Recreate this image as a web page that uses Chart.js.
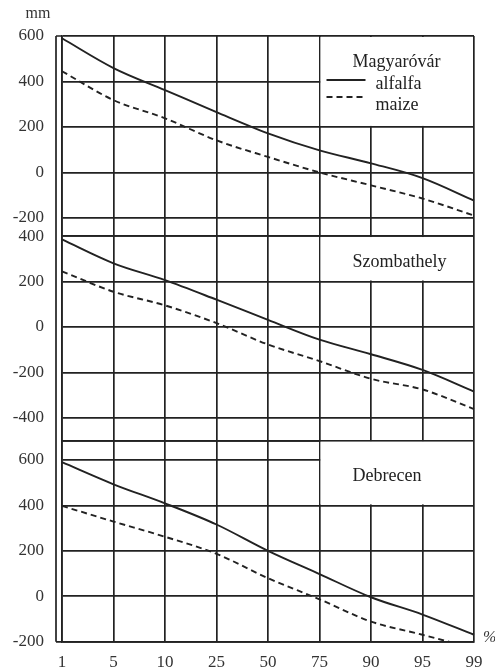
<!DOCTYPE html>
<html lang="en">
<head>
    <meta charset="UTF-8">
    <title>Magyaróvár, Szombathely, Debrecen</title>
    <style>
        html, body {
            margin: 0;
            padding: 0;
            background: #fff;
        }
        #chart {
            display: block;
        }
    </style>
</head>
<body>
    <canvas id="chart" width="495" height="670"></canvas>

    <script src="https://cdn.jsdelivr.net/npm/chart.js"></script>
    <script>
// probability of exceedance (%)
const percents = ['1', '5', '10', '25', '50', '75', '90', '95', '99'];

const stations = ['Magyaróvár', 'Szombathely', 'Debrecen'];

// mm
const magyarovarAlfalfa = [590, 459, 362, 265, 172, 97, 40, -25, -124];
const magyarovarMaize = [445, 318, 238, 141, 68, 0, -57, -115, -190];
const szombathelyAlfalfa = [385, 280, 206, 120, 31, -56, -120, -189, -284];
const szombathelyMaize = [245, 155, 95, 17, -77, -150, -228, -275, -361];
const debrecenAlfalfa = [590, 493, 409, 316, 200, 98, -4, -80, -169];
const debrecenMaize = [398, 329, 262, 187, 80, -13, -111, -169, -230];

// y ticks of each panel and the panel limits
const yTicksMagyarovar = [600, 400, 200, 0, -200];
const yTicksSzombathely = [400, 200, 0, -200, -400];
const yTicksDebrecen = [600, 400, 200, 0, -200];
const yRanges = [[-280, 600], [-500, 400], [-200, 685]];

const ink = '#222';
const serif = "'Liberation Serif', 'DejaVu Serif', serif";

function series(values, axis, dashed) {
    return {
        label: dashed ? 'maize' : 'alfalfa',
        data: values,
        yAxisID: axis,
        borderColor: ink,
        borderWidth: 1.9,
        borderDash: dashed ? [6, 4] : [],
        pointRadius: 0,
        cubicInterpolationMode: 'monotone',
        fill: false
    };
}

function panelAxis(ticks, range) {
    const [min, max] = range;
    return {
        type: 'linear',
        position: 'left',
        stack: 'panels',
        stackWeight: max - min,
        min: min,
        max: max,
        afterBuildTicks: s => {
            const vals = Array.from(new Set([min, ...ticks, max])).sort((a, b) => a - b);
            s.ticks = vals.map(v => ({ value: v }));
        },
        afterFit: s => { s.width = 62; },
        ticks: {
            autoSkip: false,
            padding: 18,
            color: '#333',
            font: { family: serif, size: 17 },
            callback: v => ticks.includes(v) ? String(v) : ''
        },
        grid: { color: ink, lineWidth: 1.7, drawTicks: false },
        border: { color: ink, width: 1.7 }
    };
}

// station name boxes: they cover the grid from 75 % to 99 % down to this value
const boxFloor = [200, 200, 400];

const paperPlugin = {
    id: 'paper',
    beforeDatasetsDraw(chart) {
        const { ctx, chartArea: a, scales } = chart;
        const x75 = scales.x.getPixelForValue(percents.indexOf('75'));
        ['y1', 'y2', 'y3'].forEach((id, i) => {
            const sc = scales[id];
            const top = sc.top;
            const bottom = sc.getPixelForValue(boxFloor[i]);
            ctx.save();
            ctx.fillStyle = '#fff';
            ctx.fillRect(x75 + 1, top + 1, a.right - x75 - 2, bottom - top - 2);
            ctx.fillStyle = ink;
            ctx.font = '18px ' + serif;
            ctx.textAlign = 'left';
            if (i === 0) {
                ctx.textBaseline = 'alphabetic';
                ctx.fillText(stations[i], x75 + 33, top + 31);
                const sets = chart.data.datasets.slice(0, 2);
                sets.forEach((ds, k) => {
                    const ly = top + 44 + k * 17;
                    ctx.strokeStyle = ds.borderColor;
                    ctx.lineWidth = 2;
                    ctx.setLineDash(ds.borderDash);
                    ctx.beginPath();
                    ctx.moveTo(x75 + 7, ly);
                    ctx.lineTo(x75 + 46, ly);
                    ctx.stroke();
                    ctx.setLineDash([]);
                    ctx.fillText(ds.label, x75 + 56, ly + 9 + k * 4);
                });
            } else {
                ctx.textBaseline = 'middle';
                ctx.fillText(stations[i], x75 + 33, (top + bottom) / 2 + 3);
            }
            ctx.restore();
        });
    },
    afterDraw(chart) {
        const { ctx, chartArea: a } = chart;
        ctx.save();
        // outer rule of the double left border
        ctx.strokeStyle = ink;
        ctx.lineWidth = 1.7;
        ctx.beginPath();
        ctx.moveTo(a.left - 6, a.top);
        ctx.lineTo(a.left - 6, a.bottom);
        ctx.moveTo(a.left - 6, a.top);
        ctx.lineTo(a.left, a.top);
        ctx.moveTo(a.left - 6, a.bottom);
        ctx.lineTo(a.left, a.bottom);
        ctx.stroke();
        ctx.fillStyle = '#333';
        ctx.font = '16px ' + serif;
        ctx.textAlign = 'center';
        ctx.textBaseline = 'middle';
        ctx.fillText('mm', 38, 14);
        ctx.font = 'italic 16px ' + serif;
        ctx.textAlign = 'left';
        ctx.fillText('%', a.right + 9, a.bottom - 4);
        ctx.restore();
    }
};

new Chart(document.getElementById('chart'), {
    type: 'line',
    data: {
        labels: percents,
        datasets: [
            series(magyarovarAlfalfa, 'y1', false),
            series(magyarovarMaize, 'y1', true),
            series(szombathelyAlfalfa, 'y2', false),
            series(szombathelyMaize, 'y2', true),
            series(debrecenAlfalfa, 'y3', false),
            series(debrecenMaize, 'y3', true)
        ]
    },
    options: {
        responsive: false,
        animation: false,
        devicePixelRatio: 1,
        layout: { padding: { left: 0, right: 21, top: 36, bottom: 0 } },
        plugins: {
            legend: { display: false },
            tooltip: { enabled: false }
        },
        scales: {
            x: {
                type: 'category',
                position: 'bottom',
                offset: false,
                afterFit: s => { s.height = 28; },
                ticks: {
                    autoSkip: false,
                    maxRotation: 0,
                    padding: 11,
                    color: '#333',
                    font: { family: serif, size: 17 }
                },
                grid: { color: ink, lineWidth: 1.7, drawTicks: false, offset: false },
                border: { color: ink, width: 1.7 }
            },
            // stacked axes are placed bottom-up in definition order
            y3: panelAxis(yTicksDebrecen, yRanges[2]),
            y2: panelAxis(yTicksSzombathely, yRanges[1]),
            y1: panelAxis(yTicksMagyarovar, yRanges[0])
        }
    },
    plugins: [paperPlugin]
});
    </script>
</body>
</html>
